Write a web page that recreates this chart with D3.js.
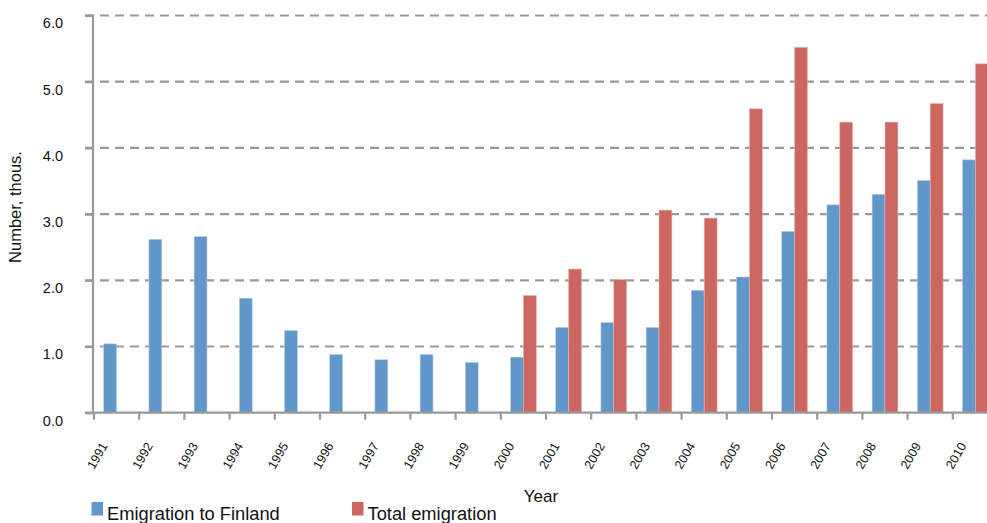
<!DOCTYPE html>
<html><head><meta charset="utf-8">
<script src="https://cdn.jsdelivr.net/npm/d3@7"></script>
<style>body{margin:0;background:#fff}svg{display:block;font-family:"Liberation Sans",Arial,Helvetica,sans-serif}</style>
</head><body><svg id="c" width="987" height="523"></svg>
<script>
const years = ["1991","1992","1993","1994","1995","1996","1997","1998","1999","2000","2001","2002","2003","2004","2005","2006","2007","2008","2009","2010"];
const finland = [1.04,2.62,2.66,1.73,1.24,0.88,0.80,0.88,0.76,0.84,1.29,1.36,1.29,1.85,2.05,2.74,3.14,3.30,3.51,3.82];
const total = [null,null,null,null,null,null,null,null,null,1.77,2.17,2.01,3.06,2.94,4.59,5.52,4.39,4.39,4.67,5.27];
const yTicks = [0,1,2,3,4,5,6];
const seriesNames = ["Emigration to Finland","Total emigration"];
const colors = ["#6197c9","#cc6661"];

const svg = d3.select("#c");
const x = d3.scaleBand().domain(years).range([94, 998]).padding(0);
const y = d3.scaleLinear().domain([0,6]).range([412.7, 15.5]);
const bw = x.bandwidth()*0.285;

// grid
svg.append("g").selectAll("line").data(yTicks.filter(d=>d>0)).join("line")
  .attr("x1",85).attr("x2",987).attr("y1",d=>y(d)).attr("y2",d=>y(d))
  .attr("stroke","#999").attr("stroke-width",2.2).attr("stroke-dasharray","9,6");

// bars
const gB = svg.append("g");
gB.selectAll("rect.f").data(years.map((yr,i)=>({yr,v:finland[i]}))).join("rect")
  .attr("x",d=>x(d.yr)+x.bandwidth()/2-bw).attr("width",bw)
  .attr("y",d=>y(d.v)).attr("height",d=>y(0)-y(d.v))
  .attr("fill",colors[0]).attr("stroke","#b9d0e8").attr("stroke-width",0.6);
gB.selectAll("rect.t").data(years.map((yr,i)=>({yr,v:total[i]})).filter(d=>d.v!=null)).join("rect")
  .attr("x",d=>x(d.yr)+x.bandwidth()/2).attr("width",bw)
  .attr("y",d=>y(d.v)).attr("height",d=>y(0)-y(d.v))
  .attr("fill",colors[1]).attr("stroke","#eab3b0").attr("stroke-width",0.6);

// y axis
const ya = svg.append("g").attr("transform","translate(93,0)")
  .call(d3.axisLeft(y).tickValues(yTicks).tickFormat(d3.format(".1f")).tickSize(8).tickPadding(22));
ya.select(".domain").attr("stroke","#999").attr("stroke-width",2.2).attr("d",`M-8,${y(6)}H0V${y(0)}`);
ya.selectAll(".tick line").attr("stroke","#999").attr("stroke-width",2.2);
ya.selectAll(".tick text").attr("font-size",14.5).attr("fill","#111").attr("dy","0.85em")
  .attr("font-family","'Liberation Sans',Arial,sans-serif");

// x axis
const xa = svg.append("g").attr("transform",`translate(0,${y(0)})`);
xa.append("line").attr("x1",85).attr("x2",987).attr("y1",0).attr("y2",0).attr("stroke","#999").attr("stroke-width",2.2);
xa.selectAll("line.tk").data(years).join("line").attr("class","tk")
  .attr("x1",d=>x(d)).attr("x2",d=>x(d)).attr("y1",0).attr("y2",7)
  .attr("stroke","#999").attr("stroke-width",2.2);
xa.selectAll("text").data(years).join("text")
  .attr("transform",d=>`translate(${x(d)+14},${33}) rotate(-60)`)
  .attr("text-anchor","end").attr("font-size",12.6).attr("fill","#111").text(d=>d);

// axis titles
svg.append("text").attr("transform","translate(21,207) rotate(-90)").attr("text-anchor","middle")
  .attr("font-size",16.5).attr("fill","#111").text("Number, thous.");
svg.append("text").attr("x",541).attr("y",502).attr("text-anchor","middle")
  .attr("font-size",17).attr("fill","#111").text("Year");

// legend
const lx = [91.5, 352];
const lg = svg.append("g");
seriesNames.forEach((n,i)=>{
  lg.append("rect").attr("x",lx[i]).attr("y",502).attr("width",11.5).attr("height",13.5).attr("fill",colors[i]);
  lg.append("text").attr("x",lx[i]+15.5).attr("y",520).attr("font-size",18.3).attr("fill","#111").text(n);
});
</script></body></html>
